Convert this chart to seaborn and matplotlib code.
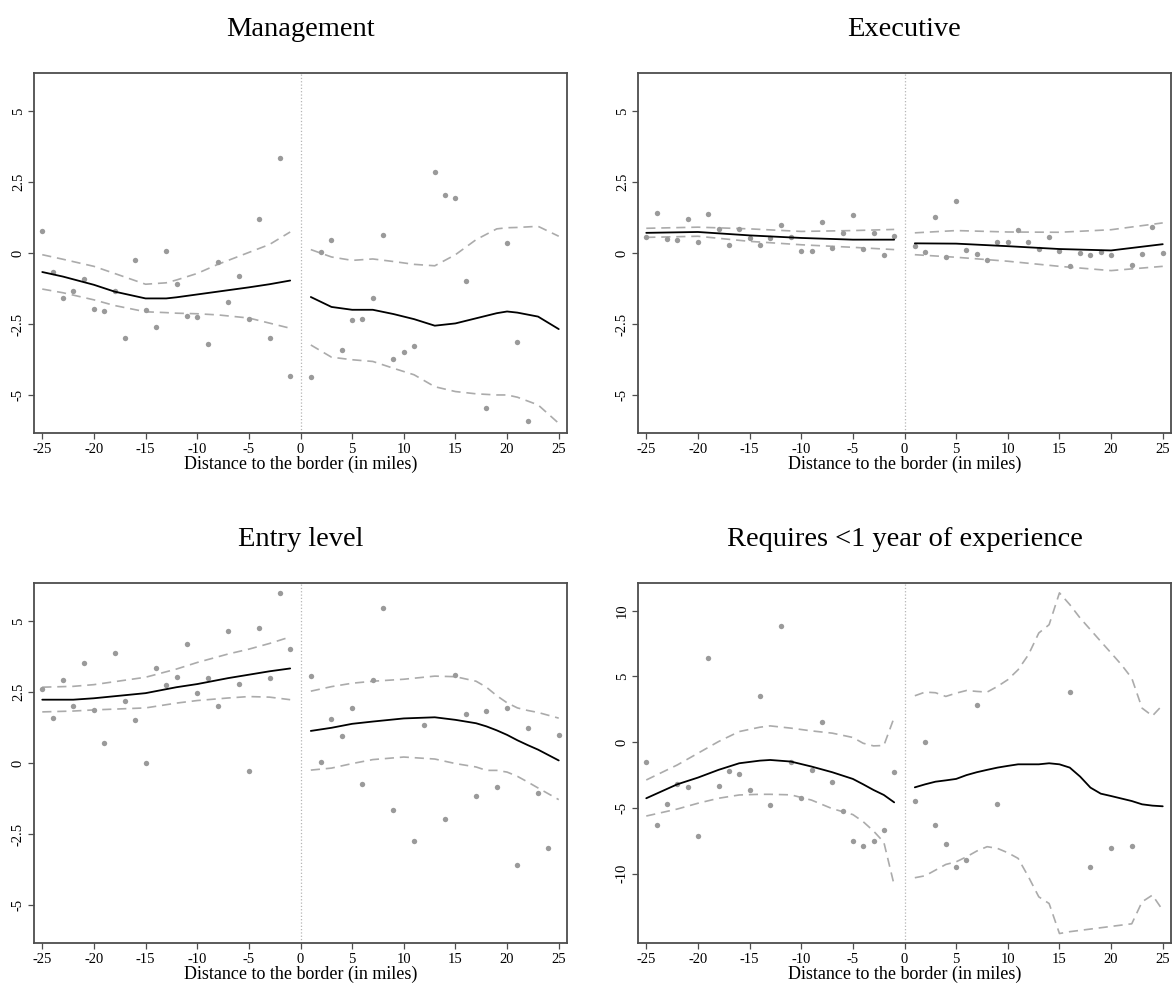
import matplotlib
matplotlib.use("Agg")
import matplotlib.pyplot as plt
import pandas as pd
import seaborn as sns

# ---------------------------------------------------------------------------
# Binned means by distance to the border (one bin per mile) and local fits
# ---------------------------------------------------------------------------
BINS_LEFT = list(range(-25, 0))
X_TICKS = [-25, -20, -15, -10, -5, 0, 5, 10, 15, 20, 25]

# Management
mgmt_pts_left_y = [0.76, -0.67, -1.58, -1.33, -0.92, -1.98, -2.05, -1.33, -2.99, -0.25,
                   -2.01, -2.62, 0.06, -1.09, -2.21, -2.24, -3.2, -0.32, -1.71, -0.82,
                   -2.31, 1.2, -2.99, 3.36, -4.34]
mgmt_pts_right_x = [1, 2, 3, 4, 5, 6, 7, 8, 9, 10, 11, 13, 14, 15, 16, 18, 20, 21, 22]
mgmt_pts_right_y = [-4.36, 0.02, 0.46, -3.4, -2.35, -2.32, -1.58, 0.62, -3.74, -3.47,
                    -3.29, 2.86, 2.05, 1.94, -1.0, -5.46, 0.35, -3.13, -5.9]
mgmt_fit_left_x = [-25, -23, -20, -18, -15, -13, -12, -10, -8, -5, -3, -1]
mgmt_fit_left = [-0.67, -0.83, -1.12, -1.36, -1.6, -1.6, -1.56, -1.46, -1.36, -1.21, -1.1, -0.97]
mgmt_hi_left = [-0.06, -0.22, -0.47, -0.72, -1.1, -1.05, -0.95, -0.72, -0.4, 0.02, 0.3, 0.74]
mgmt_lo_left = [-1.27, -1.4, -1.65, -1.85, -2.07, -2.1, -2.12, -2.14, -2.18, -2.29, -2.47, -2.65]
mgmt_fit_right_x = [1, 3, 5, 7, 9, 11, 13, 15, 17, 19, 20, 21, 23, 25]
mgmt_fit_right = [-1.55, -1.9, -2.0, -2.0, -2.15, -2.33, -2.56, -2.48, -2.3, -2.12, -2.06,
                  -2.1, -2.24, -2.68]
mgmt_hi_right = [0.12, -0.14, -0.26, -0.21, -0.3, -0.4, -0.45, -0.06, 0.47, 0.85, 0.89,
                 0.9, 0.94, 0.59]
mgmt_lo_right = [-3.24, -3.67, -3.76, -3.82, -4.06, -4.29, -4.71, -4.88, -4.96, -5.0, -5.0,
                 -5.08, -5.35, -6.0]

# Executive
exec_pts_left_y = [0.55, 1.41, 0.48, 0.45, 1.2, 0.39, 1.38, 0.86, 0.29, 0.86, 0.53, 0.29,
                   0.53, 1.0, 0.56, 0.08, 0.08, 1.09, 0.16, 0.71, 1.34, 0.15, 0.71, -0.08,
                   0.59]
exec_pts_right_x = list(range(1, 21)) + [22, 23, 24, 25]
exec_pts_right_y = [0.26, 0.02, 1.27, -0.14, 1.82, 0.12, -0.05, -0.25, 0.4, 0.4, 0.8, 0.4,
                    0.15, 0.56, 0.08, -0.46, -0.01, -0.08, 0.05, -0.08, -0.41, -0.05, 0.91,
                    -0.01]
exec_fit_left_x = [-25, -20, -15, -10, -5, -1]
exec_fit_left = [0.71, 0.74, 0.62, 0.53, 0.47, 0.47]
exec_hi_left = [0.87, 0.91, 0.85, 0.76, 0.79, 0.83]
exec_lo_left = [0.55, 0.59, 0.41, 0.29, 0.2, 0.12]
exec_fit_right_x = [1, 5, 10, 15, 20, 25]
exec_fit_right = [0.34, 0.33, 0.24, 0.14, 0.09, 0.31]
exec_hi_right = [0.71, 0.79, 0.74, 0.73, 0.82, 1.06]
exec_lo_right = [-0.06, -0.15, -0.29, -0.47, -0.62, -0.47]

# Entry level
entry_pts_left_y = [2.62, 1.58, 2.93, 2.01, 3.51, 1.85, 0.7, 3.87, 2.19, 1.52, 0.0, 3.33,
                    2.76, 3.03, 4.19, 2.46, 2.99, 2.01, 4.65, 2.8, -0.28, 4.76, 2.99, 5.98,
                    4.01]
entry_pts_right_x = [1, 2, 3, 4, 5, 6, 7, 8, 9, 11, 12, 14, 15, 16, 17, 18, 19, 20, 21, 22,
                     23, 24, 25]
entry_pts_right_y = [3.06, 0.02, 1.54, 0.94, 1.92, -0.75, 2.94, 5.46, -1.64, -2.75, 1.35,
                     -1.96, 3.09, 1.71, -1.16, 1.82, -0.85, 1.95, -3.59, 1.24, -1.05, -2.98,
                     0.99]
entry_fit_left_x = [-25, -22, -20, -15, -12, -10, -7, -5, -3, -1]
entry_fit_left = [2.23, 2.23, 2.28, 2.46, 2.67, 2.78, 2.99, 3.11, 3.23, 3.33]
entry_hi_left = [2.67, 2.7, 2.76, 3.02, 3.31, 3.54, 3.84, 4.01, 4.21, 4.44]
entry_lo_left = [1.8, 1.83, 1.87, 1.94, 2.11, 2.2, 2.29, 2.34, 2.32, 2.23]
entry_fit_right_x = [1, 3, 5, 7, 10, 13, 15, 17, 18, 19, 20, 21, 22, 23, 25]
entry_fit_right = [1.13, 1.24, 1.38, 1.46, 1.57, 1.61, 1.52, 1.4, 1.29, 1.15, 0.99, 0.8,
                   0.63, 0.47, 0.09]
entry_hi_right = [2.53, 2.69, 2.81, 2.88, 2.95, 3.06, 3.04, 2.88, 2.67, 2.37, 2.12, 1.94,
                  1.85, 1.78, 1.58]
entry_lo_right = [-0.25, -0.18, -0.02, 0.12, 0.21, 0.14, -0.02, -0.14, -0.26, -0.26, -0.32,
                  -0.47, -0.67, -0.88, -1.29]

# Requires <1 year of experience
exp_pts_left_y = [-1.47, -6.32, -4.7, -3.15, -3.38, -7.13, 6.37, -3.3, -2.21, -2.41, -3.65,
                  3.5, -4.77, 8.86, -1.47, -4.26, -2.13, 1.55, -3.02, -5.2, -7.49, -7.92,
                  -7.49, -6.68, -2.28]
exp_pts_right_x = [1, 2, 3, 4, 5, 6, 7, 9, 16, 18, 20, 22]
exp_pts_right_y = [-4.44, 0.05, -6.32, -7.77, -9.47, -8.93, 2.84, -4.7, 3.81, -9.52, -8.07,
                   -7.87]
exp_fit_left_x = [-25, -22, -20, -18, -16, -14, -13, -11, -9, -7, -5, -4, -3, -2, -1]
exp_fit_left = [-4.26, -3.2, -2.69, -2.1, -1.6, -1.4, -1.35, -1.47, -1.85, -2.28, -2.79,
                -3.2, -3.63, -4.01, -4.57]
exp_hi_left = [-2.87, -1.73, -0.84, 0.05, 0.81, 1.14, 1.24, 1.07, 0.86, 0.69, 0.36, -0.08,
               -0.28, -0.25, 1.88]
exp_lo_left = [-5.61, -5.08, -4.64, -4.26, -4.01, -3.96, -3.96, -4.0, -4.4, -5.05, -5.5,
               -6.04, -6.75, -7.6, -10.86]
exp_fit_right_x = list(range(1, 26))
exp_fit_right = [-3.43, -3.2, -3.0, -2.9, -2.79, -2.5, -2.28, -2.1, -1.93, -1.8, -1.68,
                 -1.68, -1.68, -1.6, -1.68, -1.93, -2.61, -3.45, -3.91, -4.09, -4.28, -4.47,
                 -4.72, -4.82, -4.87]
exp_hi_right = [3.53, 3.81, 3.76, 3.48, 3.73, 3.93, 3.86, 3.81, 4.24, 4.75, 5.51, 6.65, 8.3,
                8.93, 11.35, 10.46, 9.44, 8.55, 7.66, 6.78, 5.89, 4.87, 2.59, 2.0, 2.84]
exp_lo_right = [-10.3, -10.15, -9.72, -9.29, -9.09, -8.71, -8.27, -7.94, -8.07, -8.4, -8.83,
                -10.23, -11.75, -12.26, -14.54, -14.4, -14.3, -14.2, -14.1, -14.0, -13.9,
                -13.8, -12.13, -11.62, -12.77]

TITLES = ["Management", "Executive", "Entry level", "Requires <1 year of experience"]
Y_TICKS = [[-5, -2.5, 0, 2.5, 5]] * 3 + [[-10, -5, 0, 5, 10]]
Y_TICK_LABELS = [["-5", "-2.5", "0", "2.5", "5"]] * 3 + [["-10", "-5", "0", "5", "10"]]
Y_LIMITS = [(-6.34, 6.34)] * 3 + [(-15.26, 12.1)]
X_LABEL = "Distance to the border (in miles)"

panels = [
    dict(pl=mgmt_pts_left_y, prx=mgmt_pts_right_x, pry=mgmt_pts_right_y,
         lx=mgmt_fit_left_x, lf=mgmt_fit_left, lh=mgmt_hi_left, ll=mgmt_lo_left,
         rx=mgmt_fit_right_x, rf=mgmt_fit_right, rh=mgmt_hi_right, rl=mgmt_lo_right),
    dict(pl=exec_pts_left_y, prx=exec_pts_right_x, pry=exec_pts_right_y,
         lx=exec_fit_left_x, lf=exec_fit_left, lh=exec_hi_left, ll=exec_lo_left,
         rx=exec_fit_right_x, rf=exec_fit_right, rh=exec_hi_right, rl=exec_lo_right),
    dict(pl=entry_pts_left_y, prx=entry_pts_right_x, pry=entry_pts_right_y,
         lx=entry_fit_left_x, lf=entry_fit_left, lh=entry_hi_left, ll=entry_lo_left,
         rx=entry_fit_right_x, rf=entry_fit_right, rh=entry_hi_right, rl=entry_lo_right),
    dict(pl=exp_pts_left_y, prx=exp_pts_right_x, pry=exp_pts_right_y,
         lx=exp_fit_left_x, lf=exp_fit_left, lh=exp_hi_left, ll=exp_lo_left,
         rx=exp_fit_right_x, rf=exp_fit_right, rh=exp_hi_right, rl=exp_lo_right),
]

# ---------------------------------------------------------------------------
sns.set_theme(style="ticks")
plt.rcParams["font.family"] = ["Liberation Serif", "DejaVu Serif"]
plt.rcParams["axes.unicode_minus"] = False
plt.rcParams["text.color"] = "black"
plt.rcParams["axes.labelcolor"] = "black"
plt.rcParams["xtick.color"] = "black"
plt.rcParams["ytick.color"] = "black"

POINT_COLOR = "#9a9a9a"
BAND_COLOR = "#ababab"
FRAME_COLOR = "#4d4d4d"
DASH = (0, (5.5, 3.5))

fig = plt.figure(figsize=(11.73, 9.88), dpi=100)
W, H = 1173.0, 988.0
ax_w, ax_h = 533 / W, 360 / H
lefts = [34 / W, 638 / W]
bottoms = [1 - 433 / H, 1 - 943 / H]

for i, p in enumerate(panels):
    row, col = divmod(i, 2)
    ax = fig.add_axes([lefts[col], bottoms[row], ax_w, ax_h])

    pts = pd.DataFrame({
        "dist": BINS_LEFT + p["prx"],
        "value": p["pl"] + p["pry"],
    })
    sns.scatterplot(data=pts, x="dist", y="value", ax=ax, color=POINT_COLOR, s=15,
                    linewidth=0, zorder=3)

    for xs, fit, hi, lo in [(p["lx"], p["lf"], p["lh"], p["ll"]),
                            (p["rx"], p["rf"], p["rh"], p["rl"])]:
        sns.lineplot(x=xs, y=fit, ax=ax, color="black", linewidth=1.3,
                     errorbar=None, zorder=4)
        sns.lineplot(x=xs, y=hi, ax=ax, color=BAND_COLOR, linewidth=1.2,
                     linestyle=DASH, errorbar=None, zorder=2)
        sns.lineplot(x=xs, y=lo, ax=ax, color=BAND_COLOR, linewidth=1.2,
                     linestyle=DASH, errorbar=None, zorder=2)

    ax.axvline(0, color="#b5b5b5", linestyle=":", linewidth=0.9, zorder=1)

    ax.set_xlim(-25.8, 25.8)
    ax.set_ylim(*Y_LIMITS[i])
    ax.set_xticks(X_TICKS)
    ax.set_xticklabels([str(t) for t in X_TICKS], fontsize=10.5, color="black")
    ax.set_yticks(Y_TICKS[i])
    ax.set_yticklabels(Y_TICK_LABELS[i], fontsize=10.5, rotation=90, va="center",
                       color="black")
    ax.tick_params(axis="both", direction="out", length=4.5, width=0.9,
                   color=FRAME_COLOR, labelcolor="black")
    ax.tick_params(axis="x", pad=2.5)
    ax.tick_params(axis="y", pad=2)
    for s in ax.spines.values():
        s.set_visible(True)
        s.set_color(FRAME_COLOR)
        s.set_linewidth(1.3)

    ax.set_xlabel(X_LABEL, fontsize=13, labelpad=0, color="black")
    ax.set_ylabel("")
    ax.text(0.5, 1.12, TITLES[i], transform=ax.transAxes, ha="center", va="center",
            fontsize=20.5, color="black")

fig.savefig("out.png", dpi=100, facecolor="white")
